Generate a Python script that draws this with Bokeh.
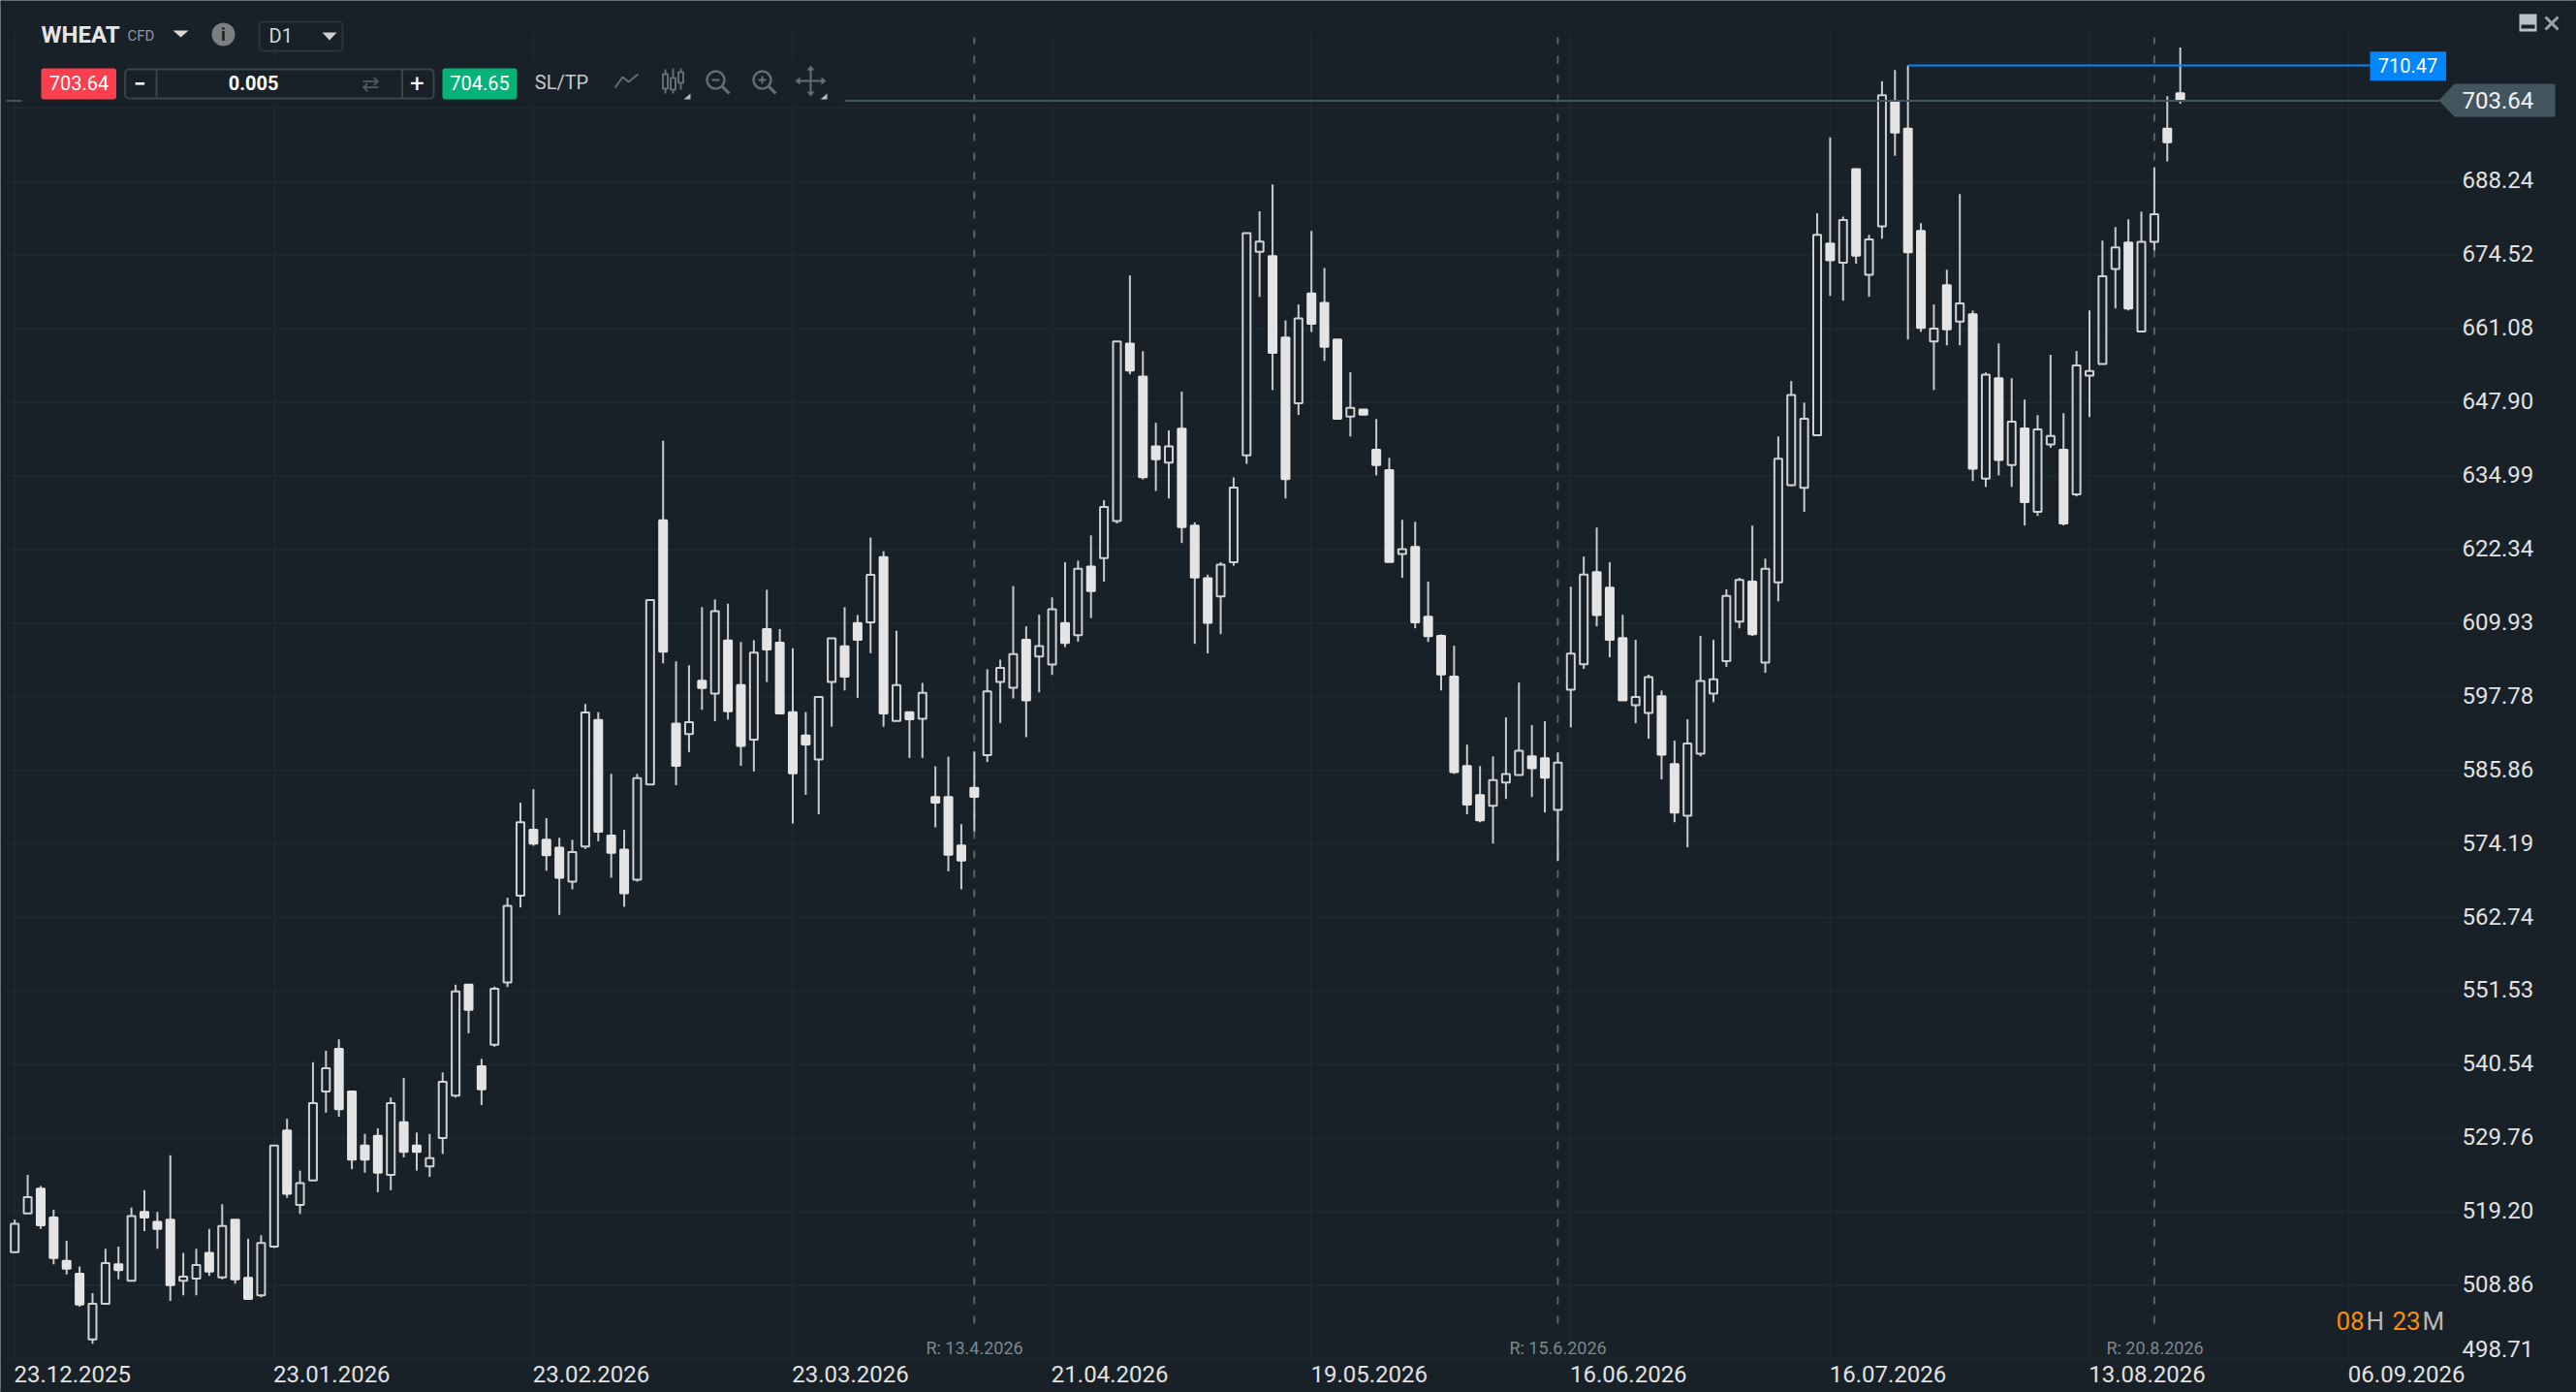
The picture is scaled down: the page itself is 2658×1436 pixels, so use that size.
from bokeh.plotting import figure
from bokeh.embed import file_html
from bokeh.resources import INLINE
from bokeh.models import (FixedTicker, Label, BoxAnnotation, PolyAnnotation, Range1d)
import math

BG = "#172127"
GRID = "#1d282e"
TXT = "#e2e2e2"
FONT = "Roboto"

highs = [518.1,524.5,522.9,519.5,515.1,511.5,507.8,514.0,514.3,519.8,522.3,519.2,527.3,513.4,514.0,516.8,520.3,518.1,515.4,515.9,
528.7,532.6,525.1,540.9,542.6,544.3,536.6,530.4,531.2,535.7,538.6,530.6,530.4,539.4,552.5,552.5,541.4,552.2,
565.8,580.7,582.85,578.25,575.15,574.85,596.6,595.27,585.3,576.4,585.3,613.8,641.15,603.6,602.95,612.6,613.9,613.2,606.8,607.1,615.54,608.94,
605.75,595.27,597.76,607.4,612.6,611.3,624.38,622.05,608.67,595.27,600.04,586.5,588.06,577.3,588.9,602.3,603.87,616.15,609.4,611.35,
614.25,620.17,620.46,624.76,630.8,658.8,670.8,657.05,644.3,642.95,649.8,627.0,618.1,620.2,634.75,678.6,682.66,687.7,662.6,665.5,
679.04,672.18,659.15,653.27,646.66,644.96,638.15,627.43,627.08,616.9,608.06,606.18,590.0,586.55,588.1,594.4,600.1,593.15,593.8,588.75,
616.05,621.15,626.1,620.17,611.34,607.15,601.4,598.8,590.64,594.1,607.8,607.15,615.6,617.55,626.44,620.8,641.9,651.7,647.87,682.3,
696.6,681.68,690.6,678.3,707.4,709.6,710.47,680.47,665.5,671.85,685.9,664.4,653.25,658.46,652.2,648.4,645.65,656.4,646.0,657.07,
664.4,677.22,679.75,681.2,682.64,690.98,704.5,713.97]

lows = [513.5,519.0,516.8,511.8,510.4,505.9,500.8,506.3,509.7,509.5,516.5,514.0,506.7,507.5,507.5,510.2,509.7,509.1,507.0,507.2,
514.1,521.2,518.9,523.7,533.5,532.9,525.3,524.8,522.0,522.3,527.0,525.1,524.2,527.5,535.7,545.2,534.6,543.2,
552.15,564.3,573.9,570.0,563.15,567.1,573.4,574.6,568.9,564.4,568.3,583.6,603.27,583.5,588.8,595.65,593.8,594.06,586.6,585.7,600.2,595.06,
577.4,581.96,578.85,592.9,598.8,597.6,604.93,592.9,593.84,587.86,587.86,576.8,569.9,567.1,576.15,587.2,593.5,597.5,591.2,598.5,
601.37,605.95,606.86,610.77,616.9,626.8,652.9,634.39,632.4,631.1,623.45,606.5,604.9,608.1,619.6,637.1,666.87,650.1,631.1,645.67,
660.5,655.3,645.0,641.9,645.74,635.1,620.23,617.54,609.08,606.8,598.8,585.3,578.85,577.6,574.25,581.3,585.1,581.6,579.15,571.5,
592.8,602.35,609.4,604.27,597.2,593.46,590.95,584.4,577.6,573.65,588.12,596.9,602.67,609.07,607.8,601.7,613.6,633.2,628.8,642.1,
667.07,666.2,672.96,666.9,677.58,693.1,659.15,660.54,650.1,658.1,658.1,634.1,633.1,635.1,633.1,626.45,628.1,639.9,626.45,631.45,
645.3,654.76,664.77,664.4,660.6,675.43,692.07,703.06]

opens = [513.5,519.0,522.5,518.4,512.3,510.5,501.4,506.3,511.8,509.5,519.2,517.8,518.1,509.5,509.8,513.4,510.0,518.1,509.9,507.5,
514.3,530.9,520.2,523.7,536.6,542.9,536.6,528.7,530.1,524.5,532.1,528.7,525.7,529.8,536.0,552.5,540.3,543.5,
552.85,566.1,576.4,574.85,573.6,568.3,573.8,594.0,575.5,573.3,568.6,583.6,627.36,593.4,591.7,600.4,598.3,607.05,599.7,590.8,608.94,606.7,
595.27,591.47,587.6,600.2,606.07,609.96,610.07,621.05,593.84,595.27,594.17,581.6,581.6,573.93,583.05,588.3,600.2,599.27,607.15,604.4,
603.08,609.95,607.95,619.46,620.9,627.2,658.4,652.5,640.15,637.3,643.26,626.43,617.5,614.4,620.2,638.6,675.17,674.35,659.5,647.75,
667.5,665.8,659.15,645.4,646.66,639.55,636.0,621.57,622.8,611.0,607.83,601.07,586.55,581.9,580.2,583.9,585.1,588.1,587.8,579.57,
598.95,603.1,618.5,615.9,607.47,596.4,595.14,597.86,586.87,578.65,588.55,598.28,603.63,610.2,616.9,603.4,616.8,633.4,632.94,642.1,
676.67,673.14,690.6,670.9,679.87,703.4,698.3,679.02,658.8,669.0,662.4,663.7,634.55,652.2,636.9,643.3,628.8,640.5,639.55,631.8,
652.67,654.76,671.97,676.85,660.6,677.0,698.3,705.1]

closes = [517.5,521.3,517.3,512.7,511.2,506.2,506.3,512.0,511.0,518.6,518.4,516.8,508.9,510.1,511.7,510.8,517.2,509.7,507.0,514.8,
528.7,521.8,523.3,534.9,540.0,534.0,526.7,526.7,524.8,534.9,527.8,527.8,526.9,538.0,551.5,548.7,536.9,551.9,
564.55,577.6,574.25,572.4,568.9,572.9,595.2,576.1,572.8,566.5,584.6,613.8,605.2,586.6,593.64,599.2,611.95,595.4,589.8,605.05,605.55,595.06,
585.4,590.04,597.76,607.4,601.07,607.16,618.07,595.06,599.7,594.1,598.4,580.7,572.5,571.6,581.65,598.67,602.5,604.78,597.2,606.12,
612.25,606.63,619.06,615.33,629.63,658.8,653.6,634.8,637.9,640.15,626.2,617.6,610.0,619.76,633.0,678.6,677.05,656.74,634.46,662.95,
662.0,657.85,645.0,646.95,645.74,636.9,620.23,622.4,610.06,607.77,601.43,585.6,580.4,577.9,584.3,585.26,589.0,586.2,584.7,587.1,
604.86,618.1,611.3,607.15,597.2,597.75,601.0,588.4,579.15,590.2,600.38,600.63,614.5,617.18,608.1,619.07,638.0,649.2,645.0,678.3,
673.6,681.06,674.45,677.45,704.72,697.55,675.05,661.24,661.1,661.0,665.7,636.25,652.85,637.8,644.5,630.45,643.15,642.0,626.8,654.5,
653.5,670.66,675.95,664.77,677.0,682.15,695.7,703.64]

price_ticks = [688.24,674.52,661.08,647.90,634.99,622.34,609.93,597.78,585.86,574.19,562.74,551.53,540.54,529.76,519.20,508.86]
grid_levels = [702.24] + price_ticks + [498.71]
date_labels = ["23.12.2025","23.01.2026","23.02.2026","23.03.2026","21.04.2026","19.05.2026","16.06.2026","16.07.2026","13.08.2026","06.09.2026"]
date_positions = [0,20,40,60,80,100,120,140,160,180]
bid = 703.64
ask = 704.65
level = 710.47
rollovers = [(74.0,"R: 13.4.2026"),(119.0,"R: 15.6.2026"),(165.0,"R: 20.8.2026")]

W, H = 2658, 1436
F_L, F_R, F_T, F_B = 6, 2536, 33, 1400   # where the grid ends, in page pixels
P0, K = 688.24, 0.00026519
def px2price(y):
    return P0 * math.exp(-K * (y - 186.9))
def px2idx(x):
    return (x - 14.7) / 13.38

# the frame fills the page; axes stay inside it at fixed locations, so header and tags are not cut
p = figure(frame_width=W, frame_height=H, y_axis_type="log", y_axis_location="right",
           x_range=Range1d(px2idx(0), px2idx(W)), y_range=Range1d(px2price(H), px2price(0)),
           output_backend="svg", toolbar_location=None, background_fill_color=BG, border_fill_color=BG,
           min_border=0, outline_line_color=None)

p.grid.visible = False

# axes
label_ticks_y = [round(t * 1.0004, 3) for t in price_ticks]
p.yaxis.fixed_location = px2idx(F_R)
p.yaxis.ticker = FixedTicker(ticks=label_ticks_y)
p.yaxis.major_label_overrides = {a: f"{b:.2f}" for a, b in zip(label_ticks_y, price_ticks)}
p.yaxis.major_label_text_font = FONT
p.yaxis.major_label_text_font_size = "24px"
p.yaxis.major_label_text_color = TXT
p.yaxis.major_tick_out = 0
p.yaxis.major_tick_in = 0
p.yaxis.minor_tick_out = 0
p.yaxis.minor_tick_in = 0
p.yaxis.major_label_standoff = 4
p.yaxis.major_tick_line_color = None
p.yaxis.minor_tick_line_color = None
p.yaxis.axis_line_color = None

# the date captions begin at their grid line, so the axis ticks sit half a caption to its right
label_shift = 4.45
label_ticks = [round(d + label_shift, 2) for d in date_positions]
p.xaxis.fixed_location = px2price(F_B)
p.xaxis.ticker = FixedTicker(ticks=label_ticks)
p.xaxis.major_label_overrides = dict(zip(label_ticks, date_labels))
p.xaxis.major_label_text_font = FONT
p.xaxis.major_label_text_font_size = "24px"
p.xaxis.major_label_text_color = TXT
p.xaxis.major_tick_out = 0
p.xaxis.major_tick_in = 0
p.xaxis.minor_tick_out = 0
p.xaxis.minor_tick_in = 0
p.xaxis.major_label_standoff = 8
p.xaxis.major_tick_line_color = None
p.xaxis.minor_tick_line_color = None
p.xaxis.axis_line_color = None

# grid drawn through the same scales, ending where the reference's does
bottom_price, top_price = px2price(F_B), px2price(F_T)
left_idx, right_idx = px2idx(F_L), px2idx(F_R)
p.segment(date_positions, [bottom_price]*len(date_positions), date_positions, [top_price]*len(date_positions),
          line_color=GRID, line_width=2)
p.segment([left_idx]*len(grid_levels), grid_levels, [right_idx]*len(grid_levels), grid_levels,
          line_color=GRID, line_width=2)
p.segment([left_idx], [bottom_price], [right_idx], [bottom_price], line_color=GRID, line_width=2)

# rollover lines
for idx, _ in rollovers:
    p.segment([idx], [px2price(1365)], [idx], [px2price(38)], line_color="#5a6368", line_width=2, line_dash="8 12")

# candles
xs = list(range(len(highs)))
p.segment(xs, highs, xs, lows, line_color="#c9cbcc", line_width=2)
up = [i for i in xs if closes[i] >= opens[i]]
dn = [i for i in xs if closes[i] < opens[i]]
p.vbar([i for i in up], top=[closes[i] for i in up], bottom=[opens[i] for i in up], width=0.6,
       fill_color=BG, line_color="#cfd1d2", line_width=2)
p.vbar([i for i in dn], top=[opens[i] for i in dn], bottom=[closes[i] for i in dn], width=0.6,
       fill_color="#e4e4e4", line_color="#e4e4e4", line_width=2)

# price level lines
p.segment([px2idx(871)], [bid], [px2idx(2516)], [bid], line_color="#43565f", line_width=2)
p.segment([px2idx(6)], [bid], [px2idx(22)], [bid], line_color="#43565f", line_width=2)
p.segment([146], [level], [px2idx(2445)], [level], line_color="#0087ff", line_width=2)

# overlay helpers, in page pixels
def sx(X): return X
def sy(Y): return H - Y

def text(X, Y, s, size=24, color=TXT, align="left", style="normal", font=FONT):
    p.add_layout(Label(x=sx(X), y=sy(Y), x_units="screen", y_units="screen", text=s, text_font=font,
                       text_font_size=f"{size}px", text_color=color, text_align=align, text_baseline="middle",
                       text_font_style=style))

def box(L, T, R, B, fill=None, line=None, radius=0, lw=2):
    p.add_layout(BoxAnnotation(left=sx(L), right=sx(R), top=sy(T), bottom=sy(B), left_units="screen", right_units="screen",
                               top_units="screen", bottom_units="screen", fill_color=fill, fill_alpha=1 if fill else 0,
                               line_color=line, line_alpha=1 if line else 0, line_width=lw, border_radius=radius))

def poly(pts, fill=None, line=None, lw=2):
    p.add_layout(PolyAnnotation(xs=[sx(a) for a, _ in pts], ys=[sy(b) for _, b in pts], xs_units="screen", ys_units="screen",
                                fill_color=fill, fill_alpha=1 if fill else 0, line_color=line, line_alpha=1 if line else 0,
                                line_width=lw))

def polyline(pts, line, lw=2):
    poly(pts + pts[::-1], None, line, lw)

# strips over the page edges, and toolbar background hiding grid lines
box(0, 0, W, 4, fill=BG)
box(0, 0, 4, H, fill=BG)
box(W-4, 0, W, H, fill=BG)
box(0, H-4, W, H, fill=BG)
box(24, 62, 870, 106, fill=BG)

# header row
text(42, 35, "WHEAT", 24, "#e6e6e6", style="bold")
text(131, 36, "CFD", 15, "#8b989f")
poly([(178, 31), (194, 31), (186, 38)], fill="#d8d8d8")
box(218, 23, 242, 47, fill="#7b7f82", radius=12)
text(230, 35, "i", 18, BG, "center", "bold")
box(267, 22, 353, 52, line="#2a363d", radius=4)
text(277, 36, "D1", 20, "#d8d8d8")
poly([(332, 33), (347, 33), (339.5, 41)], fill="#d0d0d0")

# trade row
box(42, 70, 119.5, 102, fill="#fb3f4f", radius=3)
text(81, 85, "703.64", 20, "#ffffff", "center")
box(128.6, 71, 447, 101, line="#39444b", radius=4)
polyline([(161, 71), (161, 101)], "#39444b")
polyline([(414.5, 71), (414.5, 101)], "#39444b")
text(143.5, 85, "−", 22, "#ffffff", "center", "bold")
text(261, 85, "0.005", 20, "#ffffff", "center", "bold")
text(382, 86, "⇄", 22, "#4f5a60", "center", font="DejaVu Sans")
text(430, 85, "+", 26, "#ffffff", "center")
box(456, 70, 533, 102, fill="#07b279", radius=3)
text(494.5, 85, "704.65", 20, "#ffffff", "center")
text(579, 84, "SL/TP", 20, "#c8c8c8", "center")

ICON = "#656e73"
polyline([(634, 90), (642, 79), (648, 84), (658, 76)], ICON)
for cx, t, b, w0, w1 in [(686, 76, 91, 71, 96), (694, 80, 92, 70, 96), (702, 74, 85, 70, 92)]:
    polyline([(cx, w0), (cx, w1)], ICON)
    box(cx-2.5, t, cx+2.5, b, line=ICON, fill=BG, lw=2)
poly([(705, 102), (712, 102), (712, 96)], fill="#b8bcbe")
for cx in (738, 786):
    box(cx-9, 73, cx+9, 91, line=ICON, radius=9, lw=2.5)
    polyline([(cx+7, 89), (cx+14, 96)], ICON, 3)
    polyline([(cx-4, 82), (cx+4, 82)], ICON)
polyline([(786, 78), (786, 86)], ICON)
polyline([(836, 70), (836, 96)], ICON)
polyline([(823, 83), (849, 83)], ICON)
poly([(832, 72), (840, 72), (836, 67)], fill=ICON)
poly([(832, 94), (840, 94), (836, 99)], fill=ICON)
poly([(825, 79), (825, 87), (820, 83)], fill=ICON)
poly([(847, 79), (847, 87), (852, 83)], fill=ICON)
poly([(846, 102), (853, 102), (853, 96)], fill="#b8bcbe")

# window buttons
box(2599, 14, 2617, 32, fill="#b9c1c5")
box(2601, 25, 2615, 29, fill=BG)
polyline([(2626, 17), (2639, 30)], "#9aa3a8", 3)
polyline([(2639, 17), (2626, 30)], "#9aa3a8", 3)

# price tags
box(2445, 52.7, 2523.5, 82.7, fill="#0087ff")
text(2484, 67, f"{level:.2f}", 20, "#ffffff", "center")
poly([(2516, 103), (2532, 86), (2636, 86), (2636, 120), (2532, 120)], fill="#43565f")
text(2540, 103, f"{bid:.2f}", 24, "#f2f2f2")
text(2540, 1391, "498.71", 24, TXT)

# rollover captions
for (idx, s), X in zip(rollovers, (1005, 1607, 2223)):
    text(X, 1390, s, 18, "#7d878c", "center")

# countdown
text(2410, 1362, "08", 26, "#ff8c00")
text(2441, 1362, "H", 26, "#b4b8bb")
text(2468, 1362, "23", 26, "#ff8c00")
text(2499, 1362, "M", 26, "#b4b8bb")

open("out.html", "w").write(file_html(p, INLINE))
